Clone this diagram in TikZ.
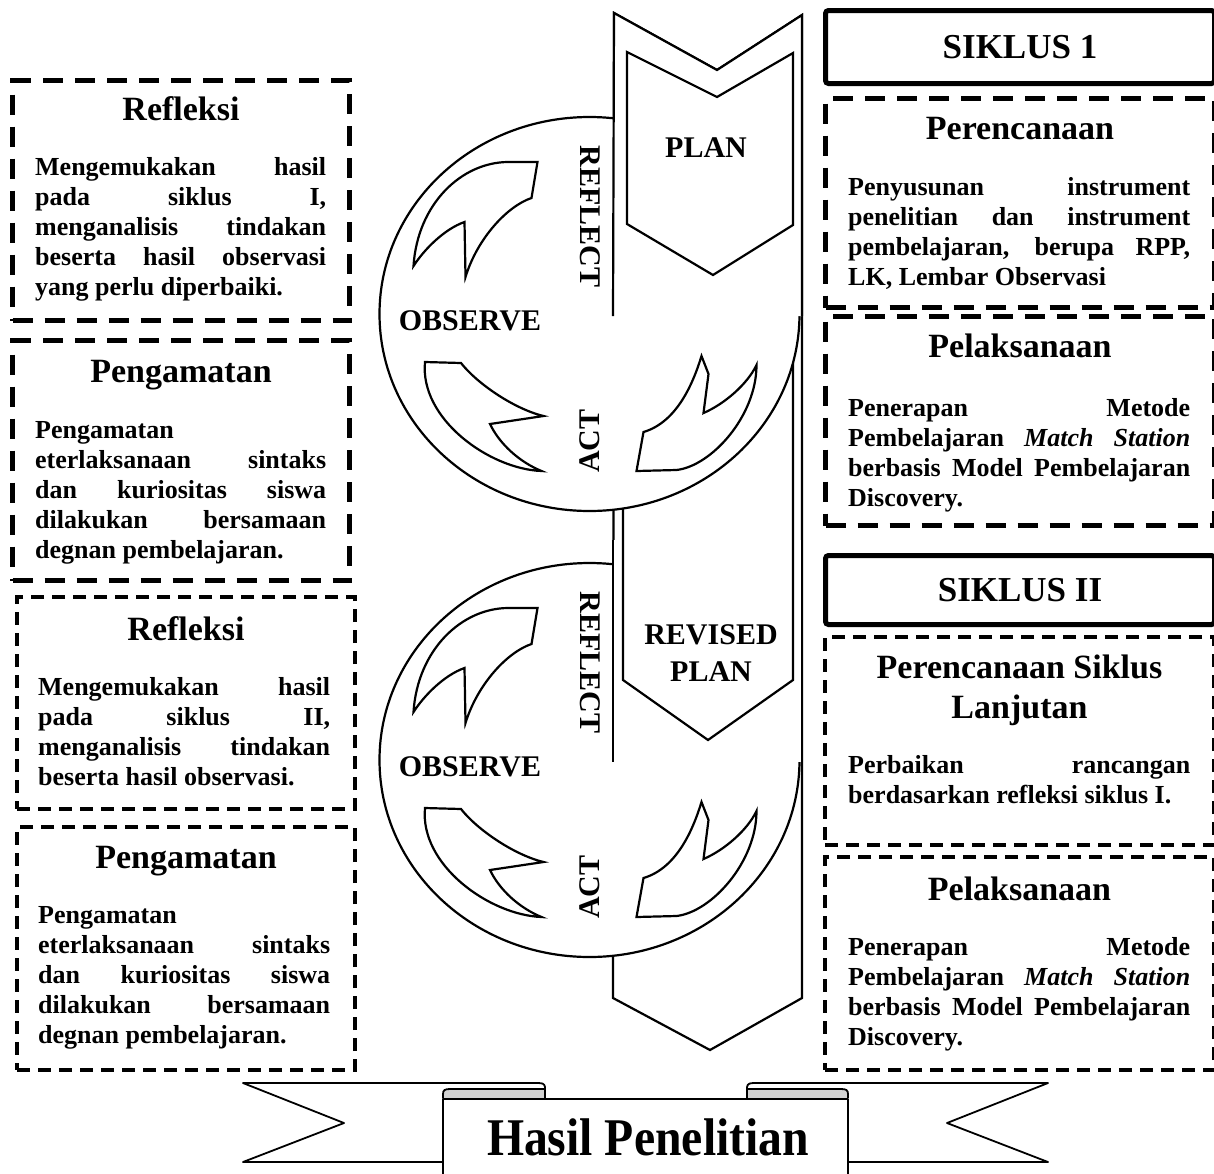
\documentclass[tikz,border=0pt]{standalone}
\usepackage{fontspec}
\setmainfont{Liberation Serif}
\usetikzlibrary{positioning}
\hbadness=10000
\tolerance=10000

\begin{document}
\begin{tikzpicture}[
    x=1pt, y=1pt,
    dashbox/.style={draw, line width=5pt, dash pattern=on 20pt off 12pt, anchor=north west, inner sep=0pt},
    dashboxs/.style={draw, line width=4pt, dash pattern=on 13pt off 8pt, anchor=north west, inner sep=0pt},
    cyclebox/.style={draw, line width=5pt, rounded corners=3pt, minimum width=389pt, minimum height=70pt, anchor=north west, inner sep=0pt, font=\fontsize{35}{40}\selectfont\bfseries},
    boxtitle/.style={anchor=base, align=center, inner sep=0pt, font=\fontsize{34}{40}\selectfont\bfseries},
    boxtext/.style={anchor=base west, align=justify, inner sep=0pt, font=\fontsize{26}{30}\selectfont\bfseries},
    figline/.style={line width=2.2pt},
    cyclelabel/.style={inner sep=0pt, font=\fontsize{30}{37}\selectfont\bfseries},
    ribbon/.style={line width=1.8pt, line join=round},
]
\useasboundingbox (0,0) rectangle (1214,-1173);

% Left column
\node[dashbox, minimum width=337pt, minimum height=240pt] (refl1) at (10,-78) {};
\node[boxtitle] (refl1title) at ([yshift=-42pt]refl1.north) {Refleksi};
\node[boxtext, text width=291pt] (refl1text) at ([xshift=25pt, yshift=-97pt]refl1.north west) {Mengemukakan hasil\linebreak
pada siklus I,\linebreak
menganalisis tindakan\linebreak
beserta hasil observasi\linebreak
yang perlu diperbaiki.};

\node[dashbox, minimum width=337pt, minimum height=240pt] (obs1) at (10,-338) {};
\node[boxtitle] (obs1title) at ([yshift=-44pt]obs1.north) {Pengamatan};
\node[boxtext, text width=291pt] (obs1text) at ([xshift=25pt, yshift=-100pt]obs1.north west) {Pengamatan\linebreak
eterlaksanaan sintaks\linebreak
dan kuriositas siswa\linebreak
dilakukan bersamaan\linebreak
degnan pembelajaran.};

\node[dashboxs, minimum width=338pt, minimum height=212pt] (refl2) at (15,-595) {};
\node[boxtitle] (refl2title) at ([yshift=-45pt]refl2.north) {Refleksi};
\node[boxtext, text width=292pt] (refl2text) at ([xshift=23pt, yshift=-100pt]refl2.north west) {Mengemukakan hasil\linebreak
pada siklus II,\linebreak
menganalisis tindakan\linebreak
beserta hasil observasi.};

\node[dashboxs, minimum width=338pt, minimum height=243pt] (obs2) at (15,-825) {};
\node[boxtitle] (obs2title) at ([yshift=-43pt]obs2.north) {Pengamatan};
\node[boxtext, text width=292pt] (obs2text) at ([xshift=23pt, yshift=-98pt]obs2.north west) {Pengamatan\linebreak
eterlaksanaan sintaks\linebreak
dan kuriositas siswa\linebreak
dilakukan bersamaan\linebreak
degnan pembelajaran.};

% Right column
\node[cyclebox, minimum height=73pt] (siklus1) at (823,-8) {SIKLUS 1};

\node[dashbox, minimum width=389pt, minimum height=209pt] (plan1) at (823,-96) {};
\node[boxtitle] (plan1title) at ([yshift=-43pt]plan1.north) {Perencanaan};
\node[boxtext, text width=342pt] (plan1text) at ([xshift=25pt, yshift=-99pt]plan1.north west) {Penyusunan instrument\linebreak
penelitian dan instrument\linebreak
pembelajaran, berupa RPP,\linebreak
LK, Lembar Observasi};

\node[dashbox, minimum width=389pt, minimum height=209pt] (act1) at (823,-314) {};
\node[boxtitle] (act1title) at ([yshift=-43pt]act1.north) {Pelaksanaan};
\node[boxtext, text width=342pt] (act1text) at ([xshift=25pt, yshift=-102pt]act1.north west) {Penerapan Metode\linebreak
Pembelajaran \textit{Match Station}\linebreak
berbasis Model Pembelajaran\linebreak
Discovery.};

\node[cyclebox, minimum height=69pt] (siklus2) at (823,-553) {SIKLUS II};

\node[dashboxs, minimum width=389pt, minimum height=208pt] (plan2) at (823,-635) {};
\node[boxtitle] (plan2title) at ([yshift=-83pt]plan2.north) {Perencanaan Siklus\\Lanjutan};
\node[boxtext, text width=342pt] (plan2text) at ([xshift=25pt, yshift=-138pt]plan2.north west) {Perbaikan rancangan\linebreak
berdasarkan refleksi siklus I.};

\node[dashboxs, minimum width=389pt, minimum height=213pt] (act2) at (823,-855) {};
\node[boxtitle] (act2title) at ([yshift=-45pt]act2.north) {Pelaksanaan};
\node[boxtext, text width=342pt] (act2text) at ([xshift=25pt, yshift=-100pt]act2.north west) {Penerapan Metode\linebreak
Pembelajaran \textit{Match Station}\linebreak
berbasis Model Pembelajaran\linebreak
Discovery.};

% Cycle band
\draw[figline, fill=white] (614,-13) -- (717,-70) -- (802,-15) -- (802,-998) -- (710,-1050) -- (613,-998) -- cycle;
\draw[figline, fill=white] (623,-300) -- (623,-680) -- (708,-740) -- (793,-680) -- (793,-300);

% Circles
\foreach \cy in {-314,-760}
  \draw[figline, fill=white] (589.5,\cy) ellipse [x radius=210, y radius=197];

% Band in front of the circles
\fill[white] (614,-13) -- (717,-70) -- (802,-15) -- (802,-316) -- (613,-316) -- cycle;
\draw[figline] (613,-316) -- (614,-13) -- (717,-70) -- (802,-15) -- (802,-316);
\draw[figline, fill=white] (627,-52) -- (717,-97) -- (793,-53) -- (793,-225) -- (713,-275) -- (627,-224) -- cycle;

\fill[white] (613,-540) rectangle (802,-762);
\draw[figline] (613,-540) -- (613,-762);
\draw[figline] (802,-540) -- (802,-762);
\draw[figline] (623,-540) -- (623,-680) -- (708,-740) -- (793,-680) -- (793,-540);

\node[cyclelabel] (plan) at (706,-148) {PLAN};
\node[cyclelabel, align=center] (revplan) at (711,-653.5) {REVISED\\PLAN};

% Curved arrows and labels in each circle
\foreach \cy/\n in {-314/1,-760/2}{
  \begin{scope}[shift={(589.5,\cy)}]
    \draw[figline, fill=white] (-176,48) .. controls (-172,110) and (-128,152) .. (-81,152) -- (-52,152) -- (-58,116)
      .. controls (-82,108) and (-112,76) .. (-124,37) -- (-125,92)
      .. controls (-145,85) and (-165,65) .. (-176,48) -- cycle;
    \draw[figline, fill=white] (-164.5,-48) -- (-128.5,-49) .. controls (-112,-70) and (-75,-95) .. (-46,-102)
      -- (-99.5,-110) .. controls (-90,-130) and (-70,-148) .. (-48,-157)
      .. controls (-100,-155) and (-170,-105) .. (-164.5,-48) -- cycle;
    \draw[figline, fill=white] (47,-157) -- (87,-156) .. controls (122,-152) and (167,-102) .. (167,-51)
      .. controls (158,-70) and (135,-90) .. (114,-99) -- (119,-60) -- (112,-42)
      .. controls (104,-68) and (88,-108) .. (54,-118) -- cycle;
    \node[cyclelabel, rotate=-90] (reflect\n) at (0.5,97.5) {REFLECT};
    \node[cyclelabel] (observe\n) at (-119.5,-6.5) {OBSERVE};
    \node[cyclelabel, rotate=90] (act\n) at (0.5,-127) {ACT};
  \end{scope}
}

% Banner
\draw[ribbon, fill=gray!35] (443,-1098) -- (443,-1094) .. controls (443,-1090) and (445,-1089) .. (450,-1089) -- (545,-1089) -- (545,-1098);
\draw[ribbon] (443,-1162) -- (243,-1162) -- (344,-1123) -- (243,-1083) -- (539,-1083) .. controls (545,-1083) and (545,-1086) .. (545,-1089) -- (545,-1098);
\draw[ribbon, fill=gray!35] (848,-1098) -- (848,-1094) .. controls (848,-1090) and (846,-1089) .. (841,-1089) -- (747,-1089) -- (747,-1098);
\draw[ribbon] (848,-1162) -- (1048,-1162) -- (947,-1123) -- (1048,-1083) -- (753,-1083) .. controls (747,-1083) and (747,-1086) .. (747,-1089) -- (747,-1098);
\node[draw, ribbon, fill=white, minimum width=405pt, minimum height=100pt, anchor=north, inner sep=0pt] (banner) at (645.5,-1098) {};
\node[anchor=base, inner sep=0pt, font=\fontsize{53}{60}\selectfont\bfseries] (hasil) at (648,-1155) {\scalebox{0.9}[1]{Hasil Penelitian}};

\end{tikzpicture}
\end{document}
